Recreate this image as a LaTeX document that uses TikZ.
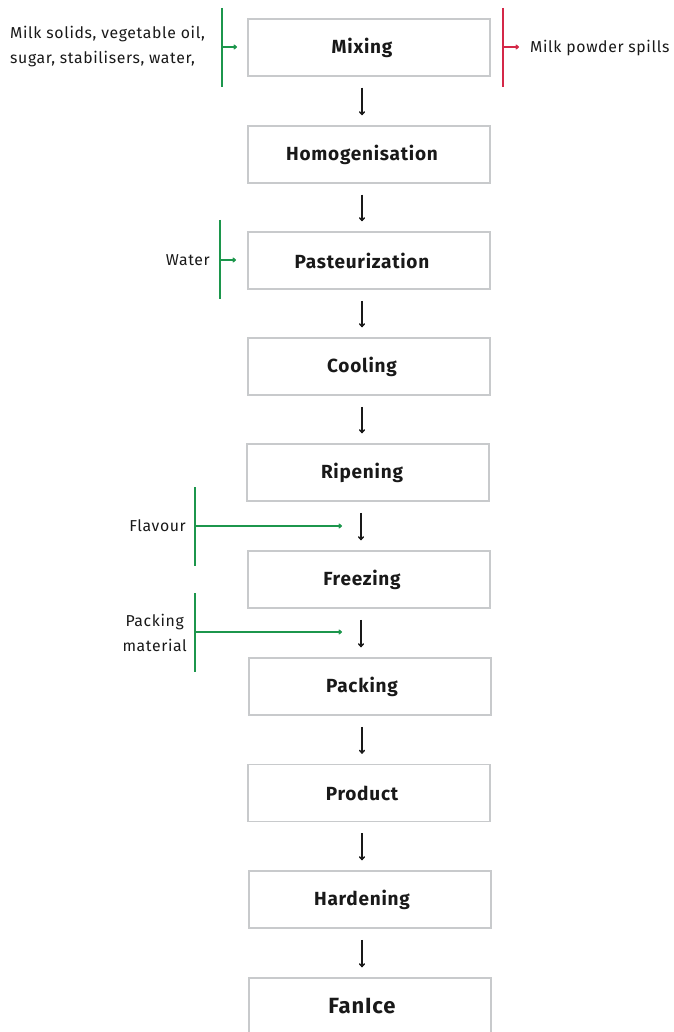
\documentclass[tikz,border=0pt]{standalone}
\usepackage{fontspec}
\setmainfont{Fira Sans}[LetterSpace=4]
\usetikzlibrary{arrows.meta,calc}
\definecolor{boxgray}{RGB}{200,202,204}
\definecolor{ingreen}{RGB}{28,150,76}
\definecolor{outred}{RGB}{212,40,72}
\definecolor{ink}{RGB}{25,25,25}
\tikzset{
  stepbox/.style={draw=boxgray, line width=1.5pt, minimum width=242pt, minimum height=57pt, inner sep=0pt},
  steptext/.style={font=\fontsize{19}{22}\selectfont\bfseries, text=ink, inner sep=0pt},
  flow/.style={-{To[length=4pt,width=6pt]}, line width=1.4pt, ink},
  inbar/.style={draw=ingreen, line width=1.5pt},
  inarrow/.style={ingreen, line width=1.3pt, -{To[length=3.5pt,width=5pt]}},
  outbar/.style={draw=outred, line width=1.5pt},
  outarrow/.style={outred, line width=1.3pt, -{To[length=3.5pt,width=5pt]}},
  lbl/.style={font=\fontsize{15.8}{25}\selectfont, text=ink, inner sep=0pt}
}
\begin{document}
\begin{tikzpicture}[x=1pt,y=-1pt]
\useasboundingbox (0,0) rectangle (673,1032);
% process steps: box frames
\node[stepbox] (mix) at (369,47.5)  {};
\node[stepbox] (hom) at (369,154.5) {};
\node[stepbox] (pas) at (369,260.5) {};
\node[stepbox] (coo) at (369,366.5) {};
\node[stepbox] (rip) at (368,472.5) {};
\node[stepbox] (fre) at (369,579.5) {};
\node[stepbox] (pac) at (370,686.5) {};
\node[stepbox] (pro) at (369,793)   {};
\node[stepbox] (har) at (370,899.5) {};
\node[stepbox] (fan) at (370,1006.5) {};
% step names, centred on the flow line
\node[steptext] (t-mix) at (362,0 |- mix) {Mixing};
\node[steptext] (t-hom) at (362,0 |- hom) {Homogenisation};
\node[steptext] (t-pas) at (362,0 |- pas) {Pasteurization};
\node[steptext] (t-coo) at (362,0 |- coo) {Cooling};
\node[steptext] (t-rip) at (362,0 |- rip) {Ripening};
\node[steptext] (t-fre) at (362,0 |- fre) {Freezing};
\node[steptext] (t-pac) at (362,0 |- pac) {Packing};
\node[steptext] (t-pro) at (362,0 |- pro) {Product};
\node[steptext] (t-har) at (362,0 |- har) {Hardening};
\node[steptext, font=\fontsize{22}{24}\selectfont\bfseries] (t-fan) at (362,0 |- fan) {FanIce};
% flow arrows between steps
\foreach \a/\b/\x in {mix/hom/362, hom/pas/362, pas/coo/362, coo/rip/362, rip/fre/361, fre/pac/361, pac/pro/362, pro/har/362, har/fan/362}{
  \draw[flow] ($(\x,0 |- \a.south)+(0,11)$) -- ($(\x,0 |- \b.north)+(0,-10)$);
}
% inputs and outputs
\coordinate (g1t) at (222,8);  \coordinate (g1b) at (222,87);
\draw[inbar] (g1t) -- (g1b);
\draw[inarrow] (222,47) -- (237,47);
\node[lbl, align=left, anchor=west] (in1) at (10,47) {Milk solids, vegetable oil,\\sugar, stabilisers, water,};

\coordinate (r1t) at (503,8);  \coordinate (r1b) at (503,87);
\draw[outbar] (r1t) -- (r1b);
\draw[outarrow] (503,47) -- (519,47);
\node[lbl, anchor=west] (out1) at (530,48) {Milk powder spills};

\draw[inbar] (220,220) -- (220,299);
\draw[inarrow] (220,260) -- (236,260);
\node[lbl, anchor=east] (in2) at (210,260) {Water};

\draw[inbar] (195,487) -- (195,566);
\draw[inarrow] (195,526) -- (342,526);
\node[lbl, anchor=east] (in3) at (186,526) {Flavour};

\draw[inbar] (195,593) -- (195,672);
\draw[inarrow] (195,632) -- (342,632);
\node[lbl, align=center, anchor=east] (in4) at (187,633) {Packing\\material};
\end{tikzpicture}
\end{document}
